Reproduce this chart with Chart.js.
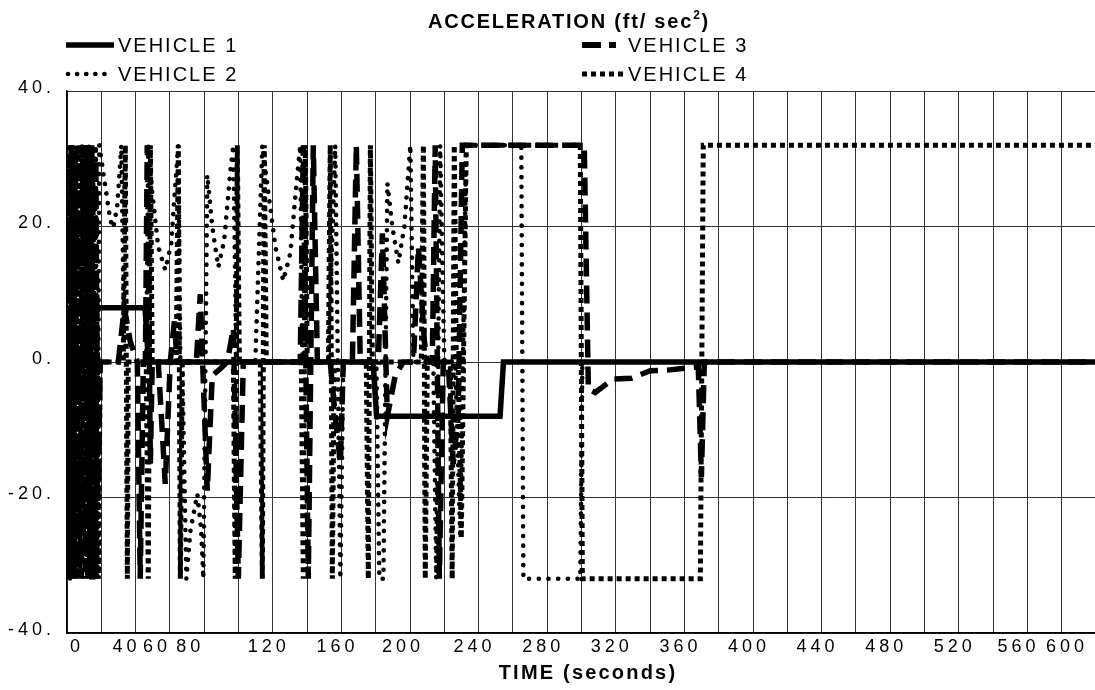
<!DOCTYPE html>
<html>
<head>
<meta charset="utf-8">
<title>Acceleration</title>
<script src="https://cdn.jsdelivr.net/npm/chart.js"></script>
<style>
  html, body { margin: 0; padding: 0; background: #fff; overflow: hidden; }
  #wrap { width: 1130px; height: 690px; }
</style>
</head>
<body>
<div id="wrap"><canvas id="myChart" width="1130" height="690"></canvas></div>
<script>
// [time (s), acceleration (ft/sec^2)]
var vehicle1 = [[0,8],[45.5,8],[47.5,0],[178.5,0],[180.5,-8],[252.5,-8],[254.5,0],[600,0]];

var vehicle2 = [[0,-14],[0.8,30],[1.8,-32],[2.8,32],[3.8,-31],[4.8,32],[5.8,-32],[6.8,31],[7.8,-32],[8.8,32],
  [9.8,-30],[10.8,32],[11.8,-32],[12.8,32],[13.8,-32],[14.8,31],[15.8,-32],[16.8,32],[17.8,-32],[18.8,32],
  [21.7,27],[25.2,21],[27,19.8],[29.3,23],[31.7,32],[33.4,0],[46.2,0],[47.4,32],[49.7,25],[53.2,17],
  [57.3,13.6],[60.8,17.5],[63.1,26],[64.9,32],[66.1,0],[67.2,0],[69.6,-32],[71.9,-25],[76,-19.5],[78.3,-25],
  [79.5,-32],[81.8,27.6],[84.7,20],[88.2,14],[91.7,18],[95.2,28],[97,32],[98.7,0],[109.8,0],[113.9,32],
  [117.4,25],[121.5,17],[126.1,12],[130.2,16],[133.7,26],[136,32],[137.2,0],[152.4,0],[156.4,32],[159.4,-32],
  [161.1,0],[180.4,0],[182.1,-32],[184.5,-32],[186.8,26.4],[189.7,20],[193.2,14.6],[196.7,20],[200.2,32],[202,0],
  [213.6,0],[215.3,-32],[217.6,32],[220,0],[226.4,0],[229.3,-26],[232.8,32],[264.9,32],[266.1,-32],[299.3,-32],
  [300.5,0],[600,0]];

var vehicle3 = [[0,6],[1.2,-32],[2.4,32],[3.6,-32],[4.8,31],[6,-32],[7.2,32],[8.4,-32],[9.6,32],[10.8,-31],
  [12,32],[13.2,-32],[14.4,32],[15.6,-32],[16.8,30],[18,-20],[19.4,0],[29.9,0],[33.4,8],[36.9,3],
  [41,0],[42.7,-32],[44.5,0],[45.7,0],[46.8,32],[48.6,-15],[49.7,0],[53.2,0],[57.3,-18],[60.2,0],
  [62.6,6],[64.3,0],[75.4,0],[77.7,10],[79.5,-3],[81.8,-19],[84.7,-2],[89.4,-1],[93.5,0],[97,5],
  [99.9,-32],[102.8,0],[136,0],[137.8,32],[140.7,-32],[143.6,32],[146,0],[153.5,0],[156.4,-8],[159.4,-15],
  [161.1,0],[166.4,0],[168.7,32],[171,0],[181.5,0],[183.9,19],[186.8,-8],[191.4,-2],[196.1,0],[202,0],
  [204.9,17],[208.4,3],[210.1,0],[213,0],[214.7,32],[217.1,-32],[219.4,0],[222.3,0],[225.2,-15],[228.1,-8],
  [230.5,32],[299.3,32],[301.6,32],[304,-4],[308,-4.5],[318.5,-2.5],[329,-2.4],[340.1,-1.3],[350,-1.2],[368.1,-0.7],
  [369.9,-17],[371.6,0],[600,0]];

var vehicle4 = [[0,32],[1.5,-32],[3,32],[4.5,-32],[6,32],[7.5,-32],[9,32],[10.5,-32],[12,32],[13.5,-32],
  [15,32],[16.5,-32],[17.5,10],[18.3,-32],[19.4,0],[32.8,0],[34,32],[35.2,-32],[35.7,0],[46.2,0],
  [47.4,-32],[48.6,32],[49.7,0],[63.7,0],[64.9,32],[66.1,-32],[67.2,0],[97,0],[98.1,-32],[99.3,32],
  [100.5,0],[112.7,0],[113.9,-32],[115,32],[116.2,0],[136.6,0],[137.8,-32],[139,32],[140.1,0],[152.4,0],
  [153.5,32],[154.7,-32],[155.8,0],[174.5,0],[175.7,-32],[176.9,32],[178,0],[206.6,0],[207.8,32],[208.9,-32],
  [210.1,0],[223.5,0],[224.6,-32],[225.8,32],[227,0],[228.1,0],[229.9,-26],[232.8,32],[299.3,32],[300.5,-32],
  [369.3,-32],[371,32],[600,32]];

var seriesNames = ['VEHICLE 1', 'VEHICLE 2', 'VEHICLE 3', 'VEHICLE 4'];
var timeLabels = [0, 40, 60, 80, 120, 160, 200, 240, 280, 320, 360, 400, 440, 480, 520, 560, 600];

var FONT = "'Liberation Sans', Arial, sans-serif";

function toXY(list) {
    return list.map(function (p) { return { x: p[0], y: p[1] }; });
}

var styles = [
    { borderWidth: 5.5, borderDash: [], borderCapStyle: 'butt' },
    { borderWidth: 4.6, borderDash: [0.1, 9.6], borderCapStyle: 'round' },
    { borderWidth: 5.5, borderDash: [18, 9], borderCapStyle: 'butt' },
    { borderWidth: 5, borderDash: [5, 4], borderCapStyle: 'butt' }
];

var allSeries = [vehicle1, vehicle2, vehicle3, vehicle4];
var dataSets = [];
for (var i = 0; i < allSeries.length; i++) {
    dataSets.push({
        label: seriesNames[i],
        data: toXY(allSeries[i]),
        borderColor: '#000',
        borderWidth: styles[i].borderWidth,
        borderDash: styles[i].borderDash,
        borderCapStyle: styles[i].borderCapStyle,
        borderJoinStyle: 'miter',
        pointRadius: 0,
        tension: 0,
        fill: false
    });
}

// the crowded labels at both ends of the time axis sit off their ticks
var labelNudge = { '0': 14, '40': -5, '60': -9, '80': -10, '200': -3, '560': -5, '600': -25 };

function spacedText(ctx, text, x, y, font, spacing) {
    ctx.font = font;
    ctx.letterSpacing = spacing + 'px';
    ctx.fillText(text, x, y);
}

// title + hand placed two column legend, and letter spacing for the tick text
var decor = {
    id: 'decor',
    beforeDraw: function (chart) {
        chart.ctx.letterSpacing = '4px';
        var items = chart.scales.x.getLabelItems(chart.chartArea);
        items.forEach(function (it) {
            if (it._nudged) return;
            var n = labelNudge[it.label];
            if (n) it.options.translation[0] += n;
            it._nudged = true;
        });
    },
    afterDraw: function (chart) {
        var ctx = chart.ctx;
        ctx.save();
        ctx.fillStyle = '#000';
        ctx.strokeStyle = '#000';

        // title with superscript
        ctx.textBaseline = 'alphabetic';
        ctx.textAlign = 'left';
        var big = 'bold 20px ' + FONT, small = 'bold 12px ' + FONT;
        var a = 'ACCELERATION (ft/ sec', b = '2', c = ')';
        ctx.letterSpacing = '1.8px';
        ctx.font = big; var wa = ctx.measureText(a).width, wc = ctx.measureText(c).width;
        ctx.font = small; var wb = ctx.measureText(b).width;
        var x0 = 569 - (wa + wb + wc) / 2, base = 28;
        spacedText(ctx, a, x0, base, big, 1.8);
        spacedText(ctx, b, x0 + wa, base - 9, small, 1.8);
        spacedText(ctx, c, x0 + wa + wb, base, big, 1.8);

        // time axis title
        ctx.textAlign = 'center';
        spacedText(ctx, 'TIME (seconds)', 588, 679, 'bold 20px ' + FONT, 2.2);

        // legend
        ctx.textAlign = 'left';
        ctx.textBaseline = 'middle';
        var rows = [[0, 66, 45], [1, 66, 74], [2, 582, 45], [3, 582, 74]];
        rows.forEach(function (r) {
            var st = styles[r[0]], x = r[1], y = r[2];
            ctx.lineWidth = st.borderWidth;
            ctx.lineCap = st.borderCapStyle;
            if (r[0] === 2) {
                ctx.setLineDash([]);
                ctx.fillRect(x, y - 3, 19, 6);
                ctx.fillRect(x + 27, y - 3, 7, 6);
            } else {
                ctx.setLineDash(r[0] === 1 ? [0.1, 9] : st.borderDash);
                ctx.beginPath();
                ctx.moveTo(x + (r[0] === 1 ? 2 : 0), y);
                ctx.lineTo(x + (r[0] === 0 ? 48 : 44), y);
                ctx.stroke();
            }
            spacedText(ctx, seriesNames[r[0]], x + (r[0] < 2 ? 52 : 46), y + 1, '20px ' + FONT, 2);
        });
        ctx.restore();
    }
};

var tickFont = { family: FONT, size: 18 };

new Chart(document.getElementById('myChart'), {
    type: 'line',
    data: { datasets: dataSets },
    plugins: [decor],
    options: {
        responsive: false,
        animation: false,
        events: [],
        layout: { padding: { top: 91, right: 34, left: 0, bottom: 0 } },
        plugins: {
            legend: { display: false },
            title: { display: false },
            tooltip: { enabled: false }
        },
        scales: {
            x: {
                type: 'linear',
                min: 0,
                max: 600,
                ticks: {
                    stepSize: 20,
                    autoSkip: false,
                    maxRotation: 0,
                    padding: 3,
                    labelOffset: -4,
                    color: '#000',
                    font: tickFont,
                    callback: function (v) { return timeLabels.indexOf(v) >= 0 ? String(v) : ''; }
                },
                grid: { color: '#333', lineWidth: 1, drawTicks: false },
                border: { color: '#000', width: 1.5 },
                title: { display: false },
                afterFit: function (s) { s.height = 57; }
            },
            y: {
                min: -40,
                max: 40,
                ticks: {
                    stepSize: 20,
                    padding: 12,
                    labelOffset: -3,
                    color: '#000',
                    font: tickFont,
                    callback: function (v) { return v + '.'; }
                },
                grid: { color: '#333', lineWidth: 1, drawTicks: false },
                border: { color: '#000', width: 1.5 },
                afterFit: function (s) { s.width = 67; }
            }
        }
    }
});
</script>
</body>
</html>
